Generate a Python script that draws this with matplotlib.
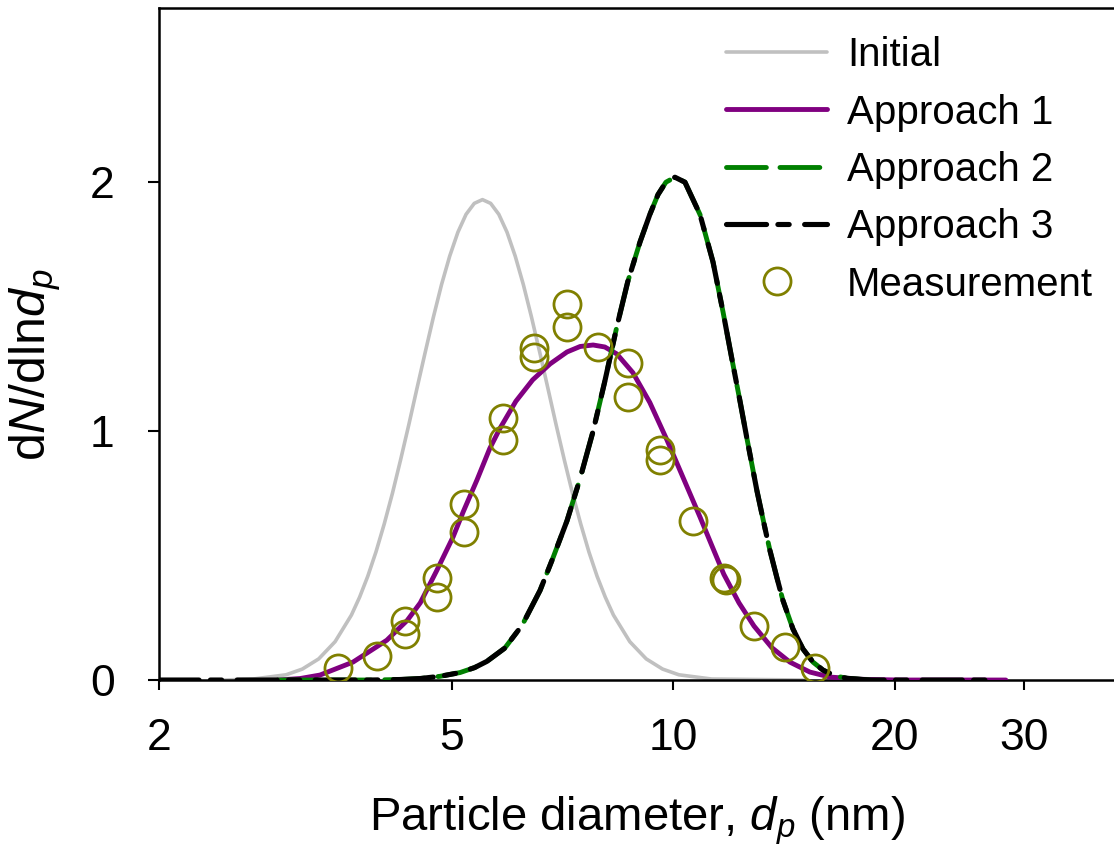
import matplotlib
matplotlib.use('Agg')
import matplotlib.pyplot as plt
import numpy as np

# curves: diameter (nm) and dN/dlnd_p
initial_d = [2.45, 2.686, 2.976, 3.132, 3.297, 3.470, 3.652, 3.747, 3.844, 3.944,
             4.047, 4.152, 4.259, 4.370, 4.483, 4.600, 4.719, 4.841, 4.967, 5.096,
             5.228, 5.364, 5.503, 5.646, 5.792, 5.943, 6.097, 6.255, 6.417, 6.584,
             6.755, 6.930, 7.110, 7.294, 7.484, 7.678, 7.877, 8.082, 8.291, 8.727,
             9.186, 9.669, 10.177, 11.275, 15.0]
initial_y = [0.0, 0.004, 0.021, 0.044, 0.085, 0.154, 0.261, 0.333, 0.417, 0.515,
             0.627, 0.750, 0.884, 1.025, 1.171, 1.316, 1.457, 1.588, 1.703, 1.799,
             1.871, 1.915, 1.93, 1.915, 1.871, 1.799, 1.703, 1.588, 1.457, 1.316,
             1.171, 1.025, 0.884, 0.750, 0.627, 0.515, 0.417, 0.333, 0.261, 0.154,
             0.085, 0.044, 0.021, 0.004, 0.0]

approach1_d = [2.90, 3.11, 3.31, 3.67, 4.08, 4.35, 4.53, 4.77, 5.02, 5.18,
               5.41, 5.63, 5.81, 6.11, 6.44, 6.80, 7.17, 7.47, 7.78, 8.07,
               8.38, 8.81, 9.29, 9.80, 10.30, 10.87, 11.28, 11.71, 12.28, 12.87,
               13.61, 14.40, 15.33, 16.32, 17.93, 20.31, 28.3]
approach1_y = [0.0, 0.006, 0.02, 0.072, 0.16, 0.24, 0.31, 0.44, 0.575, 0.675,
               0.804, 0.93, 1.01, 1.12, 1.206, 1.27, 1.318, 1.340, 1.346, 1.338,
               1.31, 1.235, 1.115, 0.965, 0.816, 0.655, 0.54, 0.425, 0.31, 0.217,
               0.13, 0.072, 0.032, 0.012, 0.003, 0.0, 0.0]

approach2_d = [2.90, 3.87, 4.25, 4.53, 4.82, 5.13, 5.37, 5.58, 5.90, 6.23,
               6.59, 6.86, 7.17, 7.47, 7.78, 8.07, 8.38, 8.67, 9.01, 9.29,
               9.53, 9.77, 10.05, 10.37, 10.87, 11.32, 11.68, 12.01, 12.32, 12.59,
               12.99, 13.32, 13.53, 13.83, 14.09, 14.54, 15.00, 15.48, 15.97, 16.58,
               17.21, 18.49]
approach2_y = [0.0, 0.0, 0.002, 0.006, 0.015, 0.03, 0.05, 0.075, 0.128, 0.22,
               0.36, 0.49, 0.64, 0.81, 1.0, 1.2, 1.42, 1.6, 1.76, 1.87,
               1.95, 2.0, 2.02, 2.0, 1.87, 1.68, 1.48, 1.29, 1.12, 0.97,
               0.76, 0.61, 0.52, 0.41, 0.32, 0.205, 0.125, 0.072, 0.04, 0.017,
               0.007, 0.0]

approach3_d = [2.0, 3.87, 4.25, 4.53, 4.82, 5.13, 5.37, 5.58, 5.90, 6.23,
               6.59, 6.86, 7.17, 7.47, 7.78, 8.07, 8.38, 8.67, 9.01, 9.29,
               9.53, 9.77, 10.05, 10.37, 10.87, 11.32, 11.68, 12.01, 12.32, 12.59,
               12.99, 13.32, 13.53, 13.83, 14.09, 14.54, 15.00, 15.48, 15.97, 16.58,
               17.21, 18.49, 27.5]
approach3_y = [0.0, 0.0, 0.002, 0.006, 0.015, 0.03, 0.05, 0.075, 0.128, 0.22,
               0.36, 0.49, 0.64, 0.81, 1.0, 1.2, 1.42, 1.6, 1.76, 1.87,
               1.95, 2.0, 2.02, 2.0, 1.87, 1.68, 1.48, 1.29, 1.12, 0.97,
               0.76, 0.61, 0.52, 0.41, 0.32, 0.205, 0.125, 0.072, 0.04, 0.017,
               0.007, 0.0, 0.0]

meas_d = [3.50, 3.96, 4.32, 4.32, 4.77, 4.77, 5.19, 5.19, 5.87, 5.87,
          6.46, 6.46, 7.17, 7.17, 7.90, 8.67, 8.67, 9.59, 9.59, 10.63,
          11.71, 11.79, 12.87, 14.18, 15.58]
meas_y = [0.048, 0.096, 0.237, 0.185, 0.41, 0.334, 0.707, 0.595, 1.053, 0.965,
          1.334, 1.298, 1.511, 1.419, 1.338, 1.274, 1.137, 0.924, 0.884, 0.639,
          0.41, 0.402, 0.217, 0.133, 0.048]

x_ticks = [2, 5, 10, 20, 30]
y_ticks = [0, 1, 2]


def setup_fonts():
    plt.rcParams['font.family'] = ['Liberation Sans', 'DejaVu Sans']
    plt.rcParams['mathtext.fontset'] = 'custom'
    plt.rcParams['mathtext.rm'] = 'Liberation Sans'
    plt.rcParams['mathtext.it'] = 'Liberation Sans:italic'
    plt.rcParams['mathtext.default'] = 'regular'


def plot_distributions():
    fig = plt.figure(figsize=(11.14, 8.57), dpi=100)
    ax = fig.add_axes([0.1427, 0.2065, 0.8573, 0.7842])

    ax.plot(initial_d, initial_y, color='#c0c0c0', lw=2.6, label='Initial',
            solid_capstyle='round', solid_joinstyle='round', zorder=2)
    ax.plot(approach1_d, approach1_y, color='#800080', lw=3.5, label='Approach 1',
            solid_capstyle='round', solid_joinstyle='round', zorder=3)
    ax.plot(approach2_d, approach2_y, color='#008000', lw=3.5,
            linestyle=(0, (8.2, 2.8)), label='Approach 2',
            dash_capstyle='round', zorder=4)
    ax.plot(approach3_d, approach3_y, color='black', lw=3.7,
            linestyle=(0, (7.8, 2.2, 2.2, 3.0)), label='Approach 3',
            dash_capstyle='round', zorder=5)
    ax.plot(meas_d, meas_y, linestyle='none', marker='o', markersize=19.5,
            markerfacecolor='none', markeredgecolor='#808000',
            markeredgewidth=2.0, label='Measurement', zorder=6)

    ax.set_xscale('log')
    ax.set_xlim(2, 39.7)
    ax.set_ylim(0, 2.7)
    ax.set_xticks(x_ticks)
    ax.set_xticklabels([str(t) for t in x_ticks])
    ax.xaxis.set_minor_locator(matplotlib.ticker.NullLocator())
    ax.set_yticks(y_ticks)
    ax.set_yticklabels([str(t) for t in y_ticks])

    for side in ['left', 'bottom', 'top']:
        ax.spines[side].set_linewidth(1.8)
    ax.spines['right'].set_visible(False)
    ax.tick_params(axis='x', direction='out', length=7, width=1.5,
                   labelsize=32, pad=20)
    ax.tick_params(axis='y', direction='out', length=8, width=1.5,
                   labelsize=32, pad=24)

    ax.set_xlabel(r'Particle diameter, $\mathit{d}_{\mathit{p}}$ (nm)',
                  fontsize=34, labelpad=26)
    ax.set_ylabel(r'd$\mathit{N}$/dln$\mathit{d}_{\mathit{p}}$', fontsize=36,
                  labelpad=18)
    ax.yaxis.set_label_coords(-0.1, 0.47)

    ax.legend(loc='upper left', bbox_to_anchor=(0.594, 0.958), frameon=False,
              fontsize=29, handlelength=2.5, handletextpad=0.5,
              labelspacing=0.48, borderpad=0, borderaxespad=0, numpoints=1)

    fig.savefig('out.png', dpi=100)
    return None


def main():
    setup_fonts()
    plot_distributions()
    return None


if __name__ == '__main__':
    main()
